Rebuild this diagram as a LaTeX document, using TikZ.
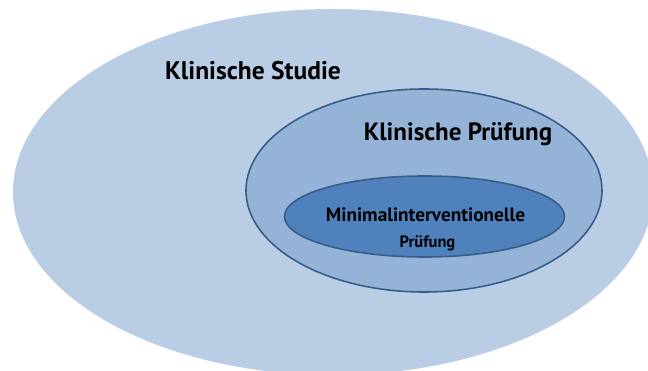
\documentclass[tikz,border=0pt]{standalone}
\usepackage{fontspec}
\setmainfont{PT Sans}
\usetikzlibrary{shapes.geometric}

\definecolor{studiefill}{HTML}{B9CDE5}
\definecolor{pruefungfill}{HTML}{95B3D7}
\definecolor{minimalfill}{HTML}{4F81BD}
\definecolor{rimblue}{HTML}{385D8A}

\tikzset{
  setoval/.style={ellipse, inner sep=0pt, outer sep=0pt},
  rimmed/.style={setoval, draw=rimblue, line width=1.6pt},
  settitle/.style={inner sep=0pt, text=black}
}

\begin{document}
\begin{tikzpicture}[x=1pt,y=-1pt]
  \useasboundingbox (0,0) rectangle (648,371);
  \clip (0,0) rectangle (648,371);

  % nested sets, outermost first
  \node[setoval, fill=studiefill, minimum width=640pt, minimum height=366pt] (studie) at (333,192) {};
  \node[rimmed, fill=pruefungfill, minimum width=356pt, minimum height=203pt] (pruefung) at (424,190.5) {};
  \node[rimmed, fill=minimalfill, minimum width=280pt, minimum height=81pt] (minimal) at (424.5,216.5) {};

  % set titles
  \node[settitle, font=\fontsize{25.5}{30}\selectfont\bfseries] (studielabel) at (253,71) {Klinische Studie};
  \node[settitle, font=\fontsize{25}{30}\selectfont\bfseries] (pruefunglabel) at (458,134) {Klinische Prüfung};
  \node[settitle, font=\fontsize{19.3}{23}\selectfont\bfseries] (minimallabel) at (425.5,215) {Minimalinterventionelle};
  \node[settitle, font=\fontsize{16.5}{20}\selectfont\bfseries] (minimallabel2) at (427.5,243) {Prüfung};
\end{tikzpicture}
\end{document}
